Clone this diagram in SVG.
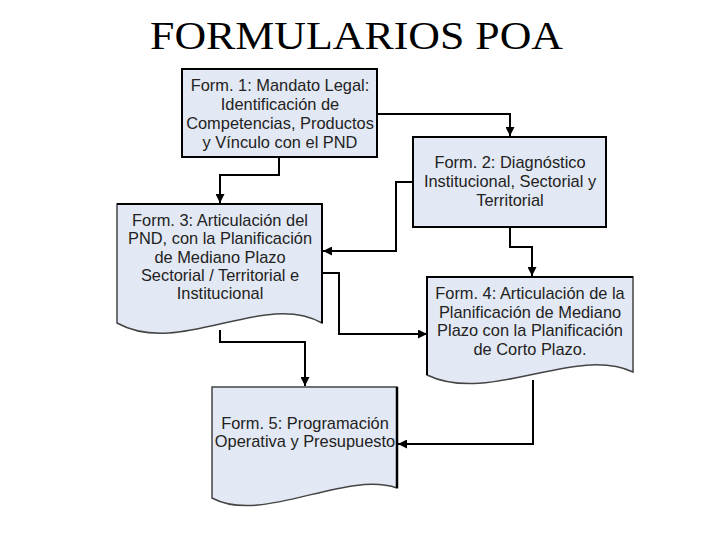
<svg xmlns="http://www.w3.org/2000/svg" width="720" height="540" viewBox="0 0 720 540">
<defs>
<marker id="arr" viewBox="0 0 10 10" refX="10" refY="5" markerWidth="9" markerHeight="9" markerUnits="userSpaceOnUse" orient="auto">
<path d="M0,0 L10,5 L0,10 z" fill="#000"/>
</marker>
</defs>
<style>
.title{font-family:"Liberation Serif","Times New Roman",serif;font-size:41px;fill:#000}
.lbl{font-family:"Liberation Sans",Arial,sans-serif;font-size:16.4px;fill:#222;text-anchor:middle}
.box{fill:#e3e9f4;stroke:#000;stroke-width:2}
.doc{fill:#e3e9f4;stroke:#444;stroke-width:1.5}
.con{fill:none;stroke:#000;stroke-width:2;marker-end:url(#arr)}
</style>
<rect width="720" height="540" fill="#fff"/>
<text class="title" x="150" y="49" textLength="413" lengthAdjust="spacingAndGlyphs">FORMULARIOS POA</text>

<g id="connectors">
<path class="con" d="M377,114 H510 V136"/>
<path class="con" d="M279,157 V175 H220 V203"/>
<path class="con" d="M413,182 H396 V251 H323"/>
<path class="con" d="M510,227 V247 H532 V276"/>
<path class="con" d="M322,273 H339 V334 H427"/>
<path class="con" d="M220,330 V342 H305 V386"/>
<path class="con" d="M533,380 V444 H398"/>
</g>

<g id="form1">
<rect class="box" x="182" y="69" width="195" height="88"/>
<text class="lbl" x="280" y="91">Form. 1: Mandato Legal:</text>
<text class="lbl" x="280" y="110">Identificación de</text>
<text class="lbl" x="280" y="129">Competencias, Productos</text>
<text class="lbl" x="280" y="148">y Vínculo con el PND</text>
</g>

<g id="form2">
<rect class="box" x="413" y="137" width="193" height="90"/>
<text class="lbl" x="510" y="168">Form. 2: Diagnóstico</text>
<text class="lbl" x="510" y="187">Institucional, Sectorial y</text>
<text class="lbl" x="510" y="206">Territorial</text>
</g>

<g id="form3">
<path class="doc" d="M117,204 H322 V323 C264,290 180,358 117,323 Z"/>
<path d="M117,204 H322 V323" fill="none" stroke="#000" stroke-width="2"/>
<text class="lbl" x="220" y="226">Form. 3: Articulación del</text>
<text class="lbl" x="220" y="244">PND, con la Planificación</text>
<text class="lbl" x="220" y="263">de Mediano Plazo</text>
<text class="lbl" x="220" y="281">Sectorial / Territorial e</text>
<text class="lbl" x="220" y="299">Institucional</text>
</g>

<g id="form4">
<path class="doc" d="M427,277 H633 V372 C575,345 490,405 427,375 Z"/>
<path d="M427,375 V277 H633" fill="none" stroke="#000" stroke-width="2"/>
<text class="lbl" x="530" y="299">Form. 4: Articulación de la</text>
<text class="lbl" x="530" y="318">Planificación de Mediano</text>
<text class="lbl" x="530" y="336">Plazo con la Planificación</text>
<text class="lbl" x="530" y="355">de Corto Plazo.</text>
</g>

<g id="form5">
<path class="doc" d="M212,387 H397 V488 C345,470 262,525 212,498 Z"/>
<path d="M397,387 V488" fill="none" stroke="#000" stroke-width="2.5"/>
<text class="lbl" x="305" y="429">Form. 5: Programación</text>
<text class="lbl" x="305" y="447">Operativa y Presupuesto</text>
</g>
</svg>
